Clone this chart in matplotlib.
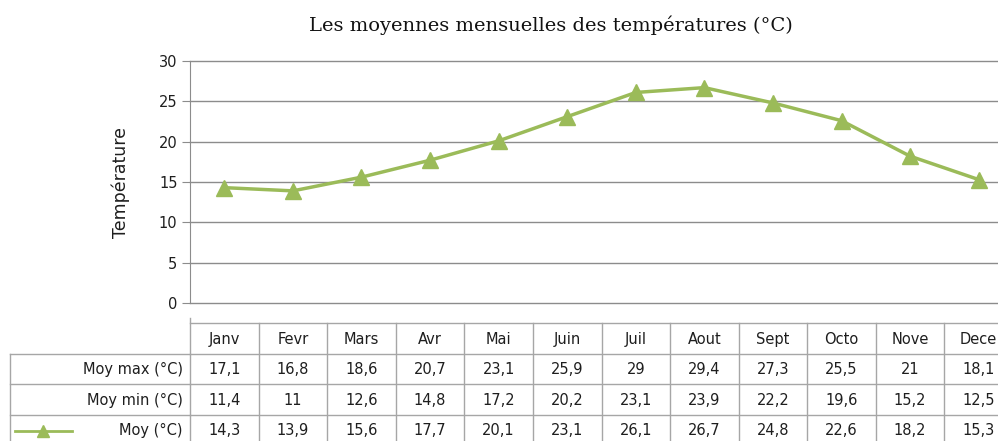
import matplotlib.pyplot as plt
import matplotlib.transforms as mtrans

# Data
months = ['Janv', 'Fevr', 'Mars', 'Avr', 'Mai', 'Juin', 'Juil', 'Aout', 'Sept', 'Octo', 'Nove', 'Dece']
moy_max = ['17,1', '16,8', '18,6', '20,7', '23,1', '25,9', '29', '29,4', '27,3', '25,5', '21', '18,1']
moy_min = ['11,4', '11', '12,6', '14,8', '17,2', '20,2', '23,1', '23,9', '22,2', '19,6', '15,2', '12,5']
moy = [14.3, 13.9, 15.6, 17.7, 20.1, 23.1, 26.1, 26.7, 24.8, 22.6, 18.2, 15.3]
row_labels = ['Moy max (°C)', 'Moy min (°C)', 'Moy (°C)']
yticks = [0, 5, 10, 15, 20, 25, 30]

green = '#9bbb59'
grid_col = '#8c8c8c'
tab_col = '#a6a6a6'
txt_col = '#1e1e1e'
sans = 'DejaVu Sans'
W, H = 998, 441

fig = plt.figure(figsize=(W / 100, H / 100), dpi=100)

# main line chart (pixel box: x 190..1013, y 61..303)
ax = fig.add_axes([190 / W, (H - 303) / H, (1013 - 190) / W, 242 / H])
x = list(range(len(months)))
for t in yticks:
    ax.axhline(t, color=grid_col, lw=1, zorder=1, clip_on=False)
ax.plot(x, moy, color=green, lw=2.5, marker='^', ms=11, markeredgecolor=green, clip_on=False, zorder=3)
ax.set_xlim(-0.5, len(months) - 0.5)
ax.set_ylim(0, 30)
ax.set_yticks(yticks)
ax.set_xticks([])
for s in ['top', 'right', 'bottom']:
    ax.spines[s].set_visible(False)
ax.spines['left'].set_color(grid_col)
ax.tick_params(axis='y', length=6, color=grid_col, labelsize=10.5, labelcolor=txt_col, pad=3)
for lab in ax.get_yticklabels():
    lab.set_fontfamily(sans)
ax.set_ylabel('Température', fontsize=12.5, fontfamily=sans, labelpad=21, color=txt_col)
fig.text(551 / W, 1 - 25 / H, 'Les moyennes mensuelles des températures (°C)',
         ha='center', va='center', fontsize=14, fontfamily='DejaVu Serif', color='#111111')

# data table below: x follows the category axis, y in pixels
tab = fig.add_axes([0, 0, 1, 1], zorder=-1)
tab.set_xlim(0, W)
tab.set_ylim(H, 0)
tab.axis('off')
tr = mtrans.blended_transform_factory(ax.transData, tab.transData)
px = tab.transData

top, row_h = 323, 30.5
n = len(months)
# header row
tab.plot([-0.5, n - 0.5], [top, top], color=tab_col, lw=1, transform=tr, clip_on=False)
for i in range(n + 1):
    tab.plot([i - 0.5, i - 0.5], [top - (5 if i == 0 else 0), H + 5], color=tab_col, lw=1,
             transform=tr, clip_on=False)
for i, m in enumerate(months):
    tab.text(i, top + row_h / 2 + 1, m, ha='center', va='center', fontsize=10.5,
             fontfamily=sans, color=txt_col, transform=tr)
# data rows
for r in range(len(row_labels) + 1):
    yy = top + row_h * (r + 1)
    tab.plot([10, 190], [yy, yy], color=tab_col, lw=1, transform=px)
    tab.plot([-0.5, n - 0.5], [yy, yy], color=tab_col, lw=1, transform=tr, clip_on=False)
tab.plot([10, 10], [top + row_h, H + 5], color=tab_col, lw=1, transform=px)
rows = [moy_max, moy_min, [str(v).replace('.', ',') for v in moy]]
for r, (lab, vals) in enumerate(zip(row_labels, rows)):
    yc = top + row_h * (r + 1.5) + 1
    tab.text(183, yc, lab, ha='right', va='center', fontsize=10.5, fontfamily=sans,
             color=txt_col, transform=px)
    for i, v in enumerate(vals):
        tab.text(i, yc, v, ha='center', va='center', fontsize=10.5, fontfamily=sans,
                 color=txt_col, transform=tr)
# legend key in the last row
yk = top + row_h * 3.5 + 1
tab.plot([15, 72], [yk, yk], color=green, lw=2, transform=px)
tab.plot([43], [yk], marker='^', ms=8, color=green, transform=px)

fig.savefig('out.png', dpi=100)
